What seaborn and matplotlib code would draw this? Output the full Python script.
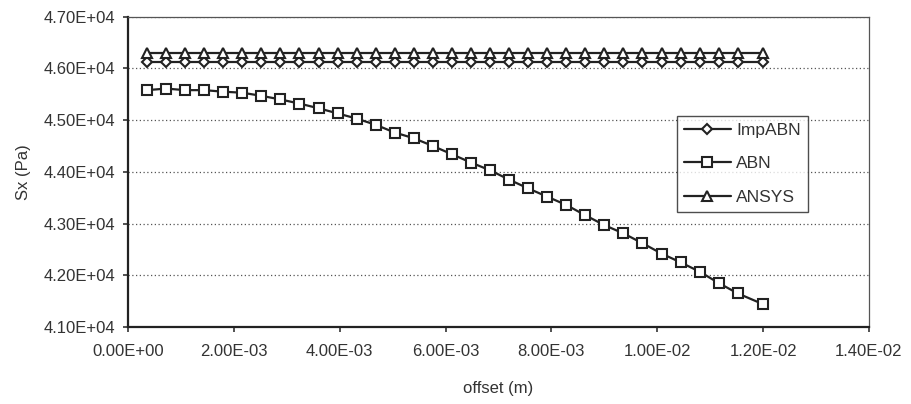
import matplotlib
matplotlib.use("Agg")
import matplotlib.pyplot as plt
import seaborn as sns
import pandas as pd
from matplotlib.ticker import FuncFormatter

# ---- data ----
offset = [0.00036, 0.00072, 0.00108, 0.00144, 0.0018, 0.00216, 0.00252, 0.00288,
          0.00324, 0.0036, 0.00396, 0.00432, 0.00468, 0.00504, 0.0054, 0.00576,
          0.00612, 0.00648, 0.00684, 0.0072, 0.00756, 0.00792, 0.00828, 0.00864,
          0.009, 0.00936, 0.00972, 0.01008, 0.01044, 0.0108, 0.01116, 0.01152, 0.012]
imp_abn = [46125] * 33
ansys = [46300] * 33
abn = [45580, 45610, 45580, 45580, 45550, 45530, 45470, 45400, 45320, 45230,
       45130, 45030, 44910, 44760, 44650, 44500, 44340, 44180, 44030, 43850,
       43680, 43520, 43360, 43160, 42970, 42810, 42620, 42420, 42250, 42070,
       41850, 41650, 41440]
series_names = ["ImpABN", "ABN", "ANSYS"]
x_ticks = [0.0, 0.002, 0.004, 0.006, 0.008, 0.010, 0.012, 0.014]
y_ticks = [41000, 42000, 43000, 44000, 45000, 46000, 47000]

sns.set_theme(style="white")
plt.rcParams['font.family'] = ['Liberation Sans', 'DejaVu Sans']

fig = plt.figure(figsize=(9.11, 4.04), dpi=100)
ax = fig.add_axes([128/911, 1-327/404, (869-128)/911, (327-16.7)/404])

df = pd.DataFrame({"offset": offset, "ImpABN": imp_abn, "ABN": abn, "ANSYS": ansys})
markers = {"ImpABN": "D", "ABN": "s", "ANSYS": "^"}
msizes = {"ImpABN": 5.5, "ABN": 6.5, "ANSYS": 7}
for name in series_names:
    sns.lineplot(data=df, x="offset", y=name, ax=ax, color="#222222", linewidth=1.6,
                 marker=markers[name], markersize=msizes[name], markerfacecolor="white",
                 markeredgecolor="#222222", markeredgewidth=1.5, label=name)

ax.set_xlim(0, 0.014)
ax.set_ylim(41000, 47000)
ax.set_xticks(x_ticks)
ax.set_yticks(y_ticks)
ax.xaxis.set_major_formatter(FuncFormatter(lambda v, p: f"{v:.2E}"))
ax.yaxis.set_major_formatter(FuncFormatter(lambda v, p: f"{v:.2E}"))
ax.tick_params(axis="both", which="major", labelsize=12, colors="#333333",
               direction="out", length=3.5, width=1.2, left=True, bottom=True)
ax.tick_params(axis="x", pad=8.5)
ax.tick_params(axis="y", pad=5.5)
for lab in ax.get_xticklabels() + ax.get_yticklabels():
    lab.set_color("#333333")

ax.yaxis.grid(True, linestyle=(0, (1, 2)), color="#555555", linewidth=0.9)
ax.xaxis.grid(False)
for s in ["left", "bottom"]:
    ax.spines[s].set_color("#222222")
    ax.spines[s].set_linewidth(1.6)
for s in ["top", "right"]:
    ax.spines[s].set_color("#555555")
    ax.spines[s].set_linewidth(0.9)

ax.set_xlabel("offset (m)", fontsize=12, color="#333333", labelpad=16)
ax.set_ylabel("Sx (Pa)", fontsize=12, color="#333333", labelpad=9)

leg = ax.legend(loc="upper left", bbox_to_anchor=(0.741, 0.68), borderaxespad=0,
                fontsize=12.5, frameon=True, fancybox=False, handlelength=2.7,
                labelspacing=1.05, handletextpad=0.3, borderpad=0.4)
leg.get_frame().set_edgecolor("#222222")
leg.get_frame().set_linewidth(1.0)
for t in leg.get_texts():
    t.set_color("#333333")

fig.savefig("out.png", dpi=100, facecolor="white")
